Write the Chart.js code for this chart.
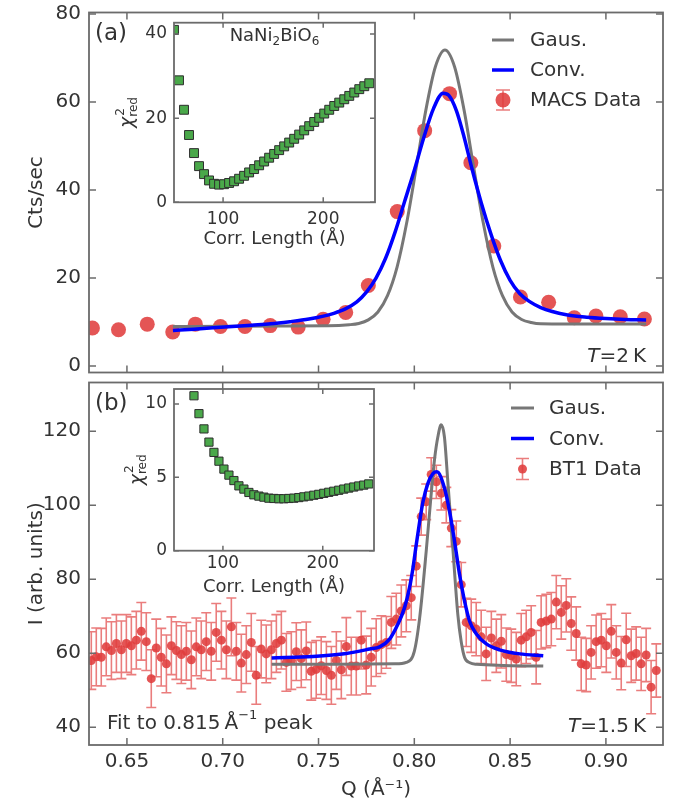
<!DOCTYPE html>
<html>
<head>
<meta charset="utf-8">
<script src="https://cdn.jsdelivr.net/npm/chart.js@4.4.1/dist/chart.umd.min.js"></script>
<style>
  body { margin: 0; background: #fff; }
  #fig { position: relative; width: 679px; height: 806px; }
  #fig canvas { position: absolute; }
</style>
</head>
<body>
<div id="fig">
  <canvas id="mainA" width="679" height="380" style="left:0;top:0"></canvas>
  <canvas id="mainB" width="679" height="428" style="left:0;top:378px"></canvas>
  <canvas id="insetA" width="290" height="262" style="left:100px;top:0"></canvas>
  <canvas id="insetB" width="290" height="230" style="left:100px;top:380px"></canvas>
</div>
<script>
const FONT = 'DejaVu Sans';
const INK = '#333333';
const SPINE = '#6b6b6b';
const RED = 'rgba(224, 62, 62, 0.88)';
const RED_BAR = 'rgba(228, 88, 88, 0.78)';
const GRAY = '#777777';
const BLUE = '#0000ff';
const GREEN = '#4aa84a';

// panel (a): MACS
const macsQ = [0.632, 0.6456, 0.6606, 0.6739, 0.6857, 0.6988, 0.7116, 0.7248, 0.7394, 0.7524, 0.7642, 0.776,
  0.7911, 0.8054, 0.8184, 0.8295, 0.8415, 0.8554, 0.8701, 0.8835, 0.8948, 0.9075, 0.9201];
const macsCts = [8.65, 8.27, 9.54, 7.75, 9.54, 9.0, 9.0, 9.2, 8.87, 10.66, 12.2, 18.3,
  35.1, 53.5, 61.9, 46.2, 27.3, 15.7, 14.5, 11.0, 11.4, 11.2, 10.7];

const gausAQ = [0.674, 0.700, 0.730, 0.755, 0.766, 0.771, 0.776, 0.781, 0.786, 0.791, 0.796, 0.801, 0.806, 0.811,
  0.816, 0.821, 0.826, 0.831, 0.836, 0.841, 0.846, 0.851, 0.856, 0.861, 0.866, 0.880, 0.900, 0.921];
const gausACts = [9.0, 9.05, 9.1, 9.15, 9.4, 9.7, 10.5, 12.3, 16.0, 22.5, 32.5, 45.1, 58.1, 68.0,
  71.8, 68.0, 58.1, 45.1, 32.5, 22.5, 16.0, 12.3, 10.6, 9.9, 9.6, 9.55, 9.55, 9.55];

const convAQ = [0.674, 0.685, 0.695, 0.705, 0.715, 0.725, 0.735, 0.745, 0.752, 0.758, 0.764, 0.770, 0.775,
  0.780, 0.785, 0.790, 0.795, 0.800, 0.805, 0.810, 0.815, 0.818, 0.822, 0.826, 0.830, 0.835, 0.840,
  0.845, 0.850, 0.855, 0.860, 0.866, 0.872, 0.880, 0.890, 0.900, 0.910, 0.921];
const convACts = [8.1, 8.4, 8.7, 9.0, 9.3, 9.6, 10.1, 10.7, 11.3, 12.0, 13.0, 14.6, 16.8,
  20.0, 24.5, 30.5, 37.5, 44.5, 52.0, 58.5, 62.0, 61.5, 58.0, 52.0, 45.0, 37.0, 30.0,
  24.0, 19.5, 16.5, 14.7, 13.3, 12.4, 11.6, 11.1, 10.8, 10.6, 10.5];

// panel (b): BT1
const bt1Q = [
  0.6314, 0.6340, 0.6366, 0.6392, 0.6419, 0.6445, 0.6471, 0.6497, 0.6523, 0.6549,
  0.6575, 0.6601, 0.6627, 0.6653, 0.6679, 0.6706, 0.6732, 0.6758, 0.6784, 0.6810,
  0.6836, 0.6862, 0.6888, 0.6914, 0.6940, 0.6966, 0.6993, 0.7019, 0.7045, 0.7071,
  0.7097, 0.7123, 0.7149, 0.7175, 0.7201, 0.7227, 0.7254, 0.7280, 0.7306, 0.7332,
  0.7358, 0.7384, 0.7410, 0.7436, 0.7462, 0.7488, 0.7514, 0.7541, 0.7567, 0.7593,
  0.7619, 0.7645, 0.7671, 0.7697, 0.7723, 0.7749, 0.7775, 0.7801, 0.7828, 0.7854,
  0.7880, 0.7906, 0.7932, 0.7958, 0.7984, 0.8010, 0.8036, 0.8062, 0.8088, 0.8115,
  0.8141, 0.8167, 0.8193, 0.8219, 0.8245, 0.8271, 0.8297, 0.8323, 0.8349, 0.8375,
  0.8402, 0.8428, 0.8454, 0.8480, 0.8506, 0.8532, 0.8558, 0.8584, 0.8610, 0.8636,
  0.8662, 0.8689, 0.8715, 0.8741, 0.8767, 0.8793, 0.8819, 0.8845, 0.8871, 0.8897,
  0.8923, 0.8949, 0.8976, 0.9002, 0.9028, 0.9054, 0.9080, 0.9106, 0.9132, 0.9158,
  0.9184, 0.9210, 0.9236, 0.9263];
const bt1I = [
  58.0, 59.0, 58.9, 61.7, 60.7, 62.6, 60.9, 62.6, 62.0, 63.5,
  65.9, 63.1, 53.1, 61.4, 58.9, 57.1, 62.0, 60.7, 59.6, 60.5,
  58.2, 61.7, 60.9, 63.1, 60.5, 65.6, 63.5, 60.9, 67.1, 60.5,
  57.3, 59.6, 62.9, 54.0, 61.1, 59.8, 60.9, 62.6, 63.5, 57.5,
  58.0, 60.4, 58.5, 60.6, 55.1, 55.6, 56.6, 55.3, 54.0, 58.0,
  55.5, 61.8, 56.5, 56.5, 63.5, 56.8, 58.9, 61.5, 62.3, 62.9,
  68.3, 69.2, 71.4, 72.8, 75.0, 83.5, 96.9, 100.9, 108.3, 106.3,
  103.2, 100.0, 93.8, 90.2, 78.5, 68.3, 67.4, 66.5, 64.4, 59.8,
  64.1, 62.0, 63.2, 59.6, 59.3, 58.4, 63.5, 64.4, 65.6, 58.9,
  68.3, 68.7, 69.2, 73.8, 71.0, 72.9, 68.0, 65.3, 57.1, 56.8,
  60.2, 63.1, 63.5, 62.0, 65.9, 60.2, 57.3, 63.6, 59.3, 59.9,
  57.1, 59.5, 50.8, 55.3];
const bt1Err = [
  7.8, 7.8, 7.8, 7.8, 7.8, 7.8, 7.8, 7.8, 7.8, 7.8,
  7.8, 7.8, 7.8, 7.8, 7.8, 7.8, 7.8, 7.8, 7.8, 7.8,
  7.8, 7.8, 7.8, 7.8, 7.8, 7.8, 7.8, 7.8, 7.8, 7.8,
  7.8, 7.8, 7.8, 7.8, 7.8, 7.8, 7.8, 7.8, 7.8, 7.8,
  7.8, 7.8, 7.8, 7.8, 7.8, 7.8, 7.8, 7.8, 7.8, 7.8,
  7.8, 7.8, 7.8, 7.8, 7.8, 7.8, 7.8, 7.8, 7.8, 7.0,
  7.0, 7.0, 7.0, 7.0, 6.0, 5.5, 5.0, 4.8, 4.5, 4.5,
  4.5, 4.8, 5.0, 5.5, 6.0, 6.5, 7.2, 7.2, 7.2, 7.2,
  7.2, 7.2, 7.2, 7.2, 7.2, 7.2, 7.2, 7.2, 7.2, 7.2,
  7.2, 7.2, 7.2, 7.2, 7.2, 7.2, 7.2, 7.2, 7.2, 7.2,
  7.2, 7.2, 7.2, 7.2, 7.2, 7.2, 7.2, 7.2, 7.2, 7.2,
  7.2, 7.2, 7.2, 7.2];

const gausBQ = [0.7255, 0.760, 0.790, 0.7958, 0.800, 0.8028, 0.8062, 0.8089, 0.8106, 0.8123, 0.8140,
  0.8157, 0.8175, 0.8201, 0.8227, 0.8245, 0.8262, 0.8290, 0.8324, 0.8673];
const gausBI = [57.0, 57.0, 57.1, 57.5, 60.5, 69.6, 87.5, 103.6, 112.6, 118.5, 121.7,
  118.5, 106.3, 88.4, 70.5, 63.0, 58.9, 57.4, 57.0, 56.5];

const convBQ = [0.7255, 0.7471, 0.7645, 0.7767, 0.7819, 0.7871, 0.7914, 0.7949, 0.7975, 0.7993, 0.8010,
  0.8028, 0.8045, 0.8071, 0.8097, 0.8118, 0.8158, 0.8184, 0.8210, 0.8236, 0.8262, 0.8288, 0.8324,
  0.8376, 0.8445, 0.8550, 0.8673];
const convBI = [58.7, 59.1, 59.9, 61.1, 61.7, 63.8, 67.8, 72.3, 77.7, 83.0, 89.3,
  95.6, 100.9, 105.9, 108.5, 109.0, 104.5, 98.3, 90.2, 81.3, 74.1, 68.7, 65.2,
  62.5, 60.9, 59.8, 59.3];

// insets: reduced chi-square vs correlation length
const corrLenA = [51, 56, 61, 66, 71, 76, 81, 86, 91, 96, 101, 106, 111, 116, 121, 126, 131, 136, 141, 146,
  151, 156, 161, 166, 171, 176, 181, 186, 191, 196, 201, 206, 211, 216, 221, 226, 231, 236, 241, 246];
const chi2A = [41, 29, 22, 16, 11.7, 8.6, 6.7, 5.2, 4.4, 4.2, 4.3, 4.6, 5.0, 5.6, 6.3, 7.1, 7.9, 8.8, 9.7, 10.6,
  11.5, 12.4, 13.3, 14.2, 15.1, 16.1, 17.1, 18.1, 19.1, 20.1, 21.1, 22.0, 22.9, 23.7, 24.5, 25.3, 26.1, 26.9, 27.6, 28.3];
const corrLenB = [71, 76, 81, 86, 91, 96, 101, 106, 111, 116, 121, 126, 131, 136, 141, 146, 151, 156,
  161, 166, 171, 176, 181, 186, 191, 196, 201, 206, 211, 216, 221, 226, 231, 236, 241, 246];
const chi2B = [10.56, 9.34, 8.3, 7.4, 6.7, 6.1, 5.56, 5.15, 4.78, 4.42, 4.2, 3.97, 3.81, 3.72, 3.65, 3.58, 3.56, 3.54,
  3.54, 3.56, 3.58, 3.62, 3.67, 3.72, 3.78, 3.84, 3.91, 3.98, 4.05, 4.12, 4.2, 4.27, 4.34, 4.41, 4.47, 4.55];

// tick values
const qTicks = [0.65, 0.70, 0.75, 0.80, 0.85, 0.90];
const ctsTicks = [0, 20, 40, 60, 80];
const intTicks = [40, 60, 80, 100, 120];
const corrTicks = [100, 200];
const chiTicksA = [0, 20, 40];
const chiTicksB = [0, 5, 10];

const pts = (xs, ys) => xs.map((x, i) => ({x, y: ys[i]}));
const font = (size, style) => `${style || ''} ${size}px "${FONT}"`;
const setTicks = vals => s => { s.ticks = vals.map(v => ({value: v})); };
const fitY = w => s => { s.width = w; s.paddingTop = 0; s.paddingBottom = 0; };
const fitX = h => s => { s.height = h; s.paddingLeft = 0; s.paddingRight = 0; };

function curve(xs, ys, color, width, order) {
  return {data: pts(xs, ys), borderColor: color, borderWidth: width, pointRadius: 0,
    showLine: true, cubicInterpolationMode: 'monotone', fill: false, order};
}
function markers(xs, ys, opts) {
  return Object.assign({data: pts(xs, ys), showLine: false}, opts);
}

function axisY(min, max, ticks, width, size, pad, title) {
  const ax = {type: 'linear', min, max, afterBuildTicks: setTicks(ticks), afterFit: fitY(width),
    grid: {display: false, drawTicks: false}, border: {display: false},
    ticks: {autoSkip: false, padding: pad, color: INK, font: {family: FONT, size}}};
  if (title) ax.title = {display: true, text: title, color: INK, font: {family: FONT, size: 20}, padding: {top: 25, bottom: 0}};
  return ax;
}
function axisX(min, max, ticks, height, size, pad, title, titleSize, titlePad, fmt) {
  return {type: 'linear', min, max, afterBuildTicks: setTicks(ticks), afterFit: fitX(height),
    grid: {display: false, drawTicks: false}, border: {display: false},
    ticks: {autoSkip: false, maxRotation: 0, padding: pad, color: INK, font: {family: FONT, size}, callback: fmt},
    title: {display: true, text: title, color: INK, font: {family: FONT, size: titleSize}, padding: {top: 0, bottom: titlePad}}};
}

// box around the plot with inward ticks on all four sides
function frame(xTicks, yTicks, len, fill) {
  return {
    id: 'frame',
    beforeDraw(chart) {
      if (!fill) return;
      const a = chart.chartArea, c = chart.ctx;
      c.save(); c.fillStyle = fill; c.fillRect(a.left, a.top, a.width, a.height); c.restore();
    },
    afterDraw(chart) {
      const {ctx: c, chartArea: a, scales} = chart;
      c.save();
      c.strokeStyle = SPINE;
      c.lineWidth = 1.5;
      c.beginPath();
      xTicks.forEach(v => {
        const p = scales.x.getPixelForValue(v);
        c.moveTo(p, a.bottom); c.lineTo(p, a.bottom - len);
        c.moveTo(p, a.top); c.lineTo(p, a.top + len);
      });
      yTicks.forEach(v => {
        const p = scales.y.getPixelForValue(v);
        c.moveTo(a.left, p); c.lineTo(a.left + len, p);
        c.moveTo(a.right, p); c.lineTo(a.right - len, p);
      });
      c.stroke();
      c.lineWidth = 1.8;
      c.strokeRect(a.left, a.top, a.width, a.height);
      c.restore();
    }
  };
}

// vertical error bars with caps, drawn under the markers
const errorBars = {
  id: 'errorBars',
  beforeDatasetDraw(chart, args) {
    const ds = chart.data.datasets[args.index];
    if (!ds.errors) return;
    const {ctx: c, chartArea: a, scales: {x, y}} = chart;
    c.save();
    c.beginPath(); c.rect(a.left, a.top, a.width, a.height); c.clip();
    c.strokeStyle = ds.errorColor; c.lineWidth = 1.6;
    c.beginPath();
    ds.data.forEach((p, i) => {
      const px = x.getPixelForValue(p.x);
      const t = y.getPixelForValue(p.y + ds.errors[i]);
      const b = y.getPixelForValue(p.y - ds.errors[i]);
      c.moveTo(px, t); c.lineTo(px, b);
      c.moveTo(px - ds.cap, t); c.lineTo(px + ds.cap, t);
      c.moveTo(px - ds.cap, b); c.lineTo(px + ds.cap, b);
    });
    c.stroke();
    c.restore();
  }
};

function drawRuns(c, x, y, runs, align) {
  let w = 0;
  runs.forEach(r => { c.font = font(r[1], r[2]); w += c.measureText(r[0]).width; });
  let cx = align === 'right' ? x - w : align === 'center' ? x - w / 2 : x;
  c.textAlign = 'left'; c.textBaseline = 'middle'; c.fillStyle = INK;
  runs.forEach(r => {
    c.font = font(r[1], r[2]);
    c.fillText(r[0], cx, y + (r[3] || 0));
    cx += c.measureText(r[0]).width;
  });
}

function notes(items) {
  return {id: 'notes', afterDraw(chart) {
    const c = chart.ctx;
    c.save();
    items.forEach(it => drawRuns(c, it.x, it.y, it.runs, it.align));
    c.restore();
  }};
}

function legendBox(cfg) {
  return {id: 'legendBox', afterDraw(chart) {
    const c = chart.ctx;
    c.save();
    cfg.rows.forEach((row, i) => {
      const y = cfg.y + i * cfg.dy;
      if (row.line) {
        c.strokeStyle = row.line; c.lineWidth = row.w;
        c.beginPath(); c.moveTo(cfg.x0, y); c.lineTo(cfg.x1, y); c.stroke();
      } else {
        const cx = (cfg.x0 + cfg.x1) / 2;
        c.strokeStyle = RED_BAR; c.lineWidth = 1.6;
        c.beginPath();
        c.moveTo(cx, y - row.err); c.lineTo(cx, y + row.err);
        c.moveTo(cx - row.cap, y - row.err); c.lineTo(cx + row.cap, y - row.err);
        c.moveTo(cx - row.cap, y + row.err); c.lineTo(cx + row.cap, y + row.err);
        c.stroke();
        c.fillStyle = RED;
        c.beginPath(); c.arc(cx, y, row.r, 0, Math.PI * 2); c.fill();
      }
      drawRuns(c, cfg.tx, y + 1, [[row.label, 20]], 'left');
    });
    c.restore();
  }};
}

function chiLabel(dx) {
  return {id: 'chiLabel', afterDraw(chart) {
    const a = chart.chartArea, c = chart.ctx;
    c.save();
    c.translate(a.left + dx, (a.top + a.bottom) / 2);
    c.rotate(-Math.PI / 2);
    c.fillStyle = INK; c.textBaseline = 'middle'; c.textAlign = 'left';
    c.font = font(19, 'italic'); const w1 = c.measureText('χ').width;
    c.font = font(12); const w2 = c.measureText('red').width;
    const x0 = -(w1 + w2) / 2;
    c.font = font(19, 'italic'); c.fillText('χ', x0, 1);
    c.font = font(12); c.fillText('2', x0 + w1 + 1, -7); c.fillText('red', x0 + w1, 6);
    c.restore();
  }};
}

const base = {responsive: false, animation: false, events: [],
  plugins: {legend: {display: false}, tooltip: {enabled: false}}};

// ---------- panel (a) ----------
new Chart(document.getElementById('mainA'), {
  type: 'line',
  data: {datasets: [
    curve(convAQ, convACts, BLUE, 3.5, 1),
    curve(gausAQ, gausACts, GRAY, 3, 2),
    markers(macsQ, macsCts, {order: 3, pointRadius: 7.5, pointBackgroundColor: RED, backgroundColor: RED, pointBorderWidth: 0})
  ]},
  options: Object.assign({}, base, {
    layout: {padding: {left: 0, right: 16, top: 12.5, bottom: 1.5}},
    scales: {
      x: {type: 'linear', min: 0.6302, max: 0.9298, display: false},
      y: axisY(-1.45, 80.34, ctsTicks, 89, 20, 8, 'Cts/sec')
    }
  }),
  plugins: [frame(qTicks, ctsTicks, 7),
    notes([
      {x: 95, y: 34, runs: [['(a)', 23]], align: 'left'},
      {x: 646, y: 357, runs: [['T', 20, 'italic'], ['=', 20], ['2\u2009K', 20]], align: 'right'}
    ]),
    legendBox({x0: 492, x1: 514, tx: 530, y: 40, dy: 30, rows: [
      {label: 'Gaus.', line: GRAY, w: 3},
      {label: 'Conv.', line: BLUE, w: 3.5},
      {label: 'MACS Data', r: 7.5, err: 10, cap: 7}
    ]})]
});

// ---------- panel (b) ----------
new Chart(document.getElementById('mainB'), {
  type: 'line',
  data: {datasets: [
    curve(convBQ, convBI, BLUE, 3.5, 1),
    curve(gausBQ, gausBI, GRAY, 3, 2),
    markers(bt1Q, bt1I, {order: 3, pointRadius: 4.5, pointBackgroundColor: RED, backgroundColor: RED, pointBorderWidth: 0,
      errors: bt1Err, errorColor: RED_BAR, cap: 5})
  ]},
  options: Object.assign({}, base, {
    layout: {padding: {left: 0, right: 16, top: 2, bottom: 0}},
    scales: {
      x: axisX(0.6302, 0.9298, qTicks, 61, 20, 5, 'Q (Å\u207B\u00B9)', 20, 4, v => v.toFixed(2)),
      y: axisY(35.17, 133.15, intTicks, 89, 20, 8, 'I (arb. units)')
    }
  }),
  plugins: [errorBars, frame(qTicks, intTicks, 7),
    notes([
      {x: 95, y: 26, runs: [['(b)', 23]], align: 'left'},
      {x: 646, y: 349, runs: [['T', 20, 'italic'], ['=', 20], ['1.5\u2009K', 20]], align: 'right'},
      {x: 107, y: 346, runs: [['Fit to ', 20], ['0.815', 20], ['\u2009Å', 20], ['\u22121', 13, '', -8], [' peak', 20]], align: 'left'}
    ]),
    legendBox({x0: 511, x1: 534, tx: 549, y: 30, dy: 30.5, rows: [
      {label: 'Gaus.', line: GRAY, w: 3},
      {label: 'Conv.', line: BLUE, w: 3.5},
      {label: 'BT1 Data', r: 4.5, err: 10.5, cap: 6.5}
    ]})]
});

// ---------- inset (a) ----------
new Chart(document.getElementById('insetA'), {
  type: 'line',
  data: {datasets: [
    markers(corrLenA, chi2A, {pointStyle: 'rect', pointRadius: 6.3, pointBackgroundColor: GREEN, backgroundColor: GREEN,
      pointBorderColor: '#2e2e2e', pointBorderWidth: 1})
  ]},
  options: Object.assign({}, base, {
    layout: {padding: {left: 0, right: 15, top: 22.7, bottom: 0}},
    scales: {
      x: axisX(51, 251.7, corrTicks, 59.7, 17, 7.5, 'Corr. Length (Å)', 18, 12),
      y: axisY(0, 42.7, chiTicksA, 74, 17, 7)
    }
  }),
  plugins: [frame(corrTicks, chiTicksA, 5, '#ffffff'), chiLabel(-46.5),
    {id: 'formula', afterDraw(chart) {
      const a = chart.chartArea, c = chart.ctx;
      c.save();
      drawRuns(c, (a.left + a.right) / 2, a.top + 14, [['NaNi', 18], ['2', 12, '', 5], ['BiO', 18], ['6', 12, '', 5]], 'center');
      c.restore();
    }}]
});

// ---------- inset (b) ----------
new Chart(document.getElementById('insetB'), {
  type: 'line',
  data: {datasets: [
    markers(corrLenB, chi2B, {pointStyle: 'rect', pointRadius: 5.8, pointBackgroundColor: GREEN, backgroundColor: GREEN,
      pointBorderColor: '#2e2e2e', pointBorderWidth: 1})
  ]},
  options: Object.assign({}, base, {
    layout: {padding: {left: 0, right: 16, top: 9, bottom: 0}},
    scales: {
      x: axisX(51, 251.3, corrTicks, 59.3, 17, 2.4, 'Corr. Length (Å)', 18, 11.7),
      y: axisY(0, 11.02, chiTicksB, 74, 17, 7)
    }
  }),
  plugins: [frame(corrTicks, chiTicksB, 5, '#ffffff'), chiLabel(-37)]
});
</script>
</body>
</html>
